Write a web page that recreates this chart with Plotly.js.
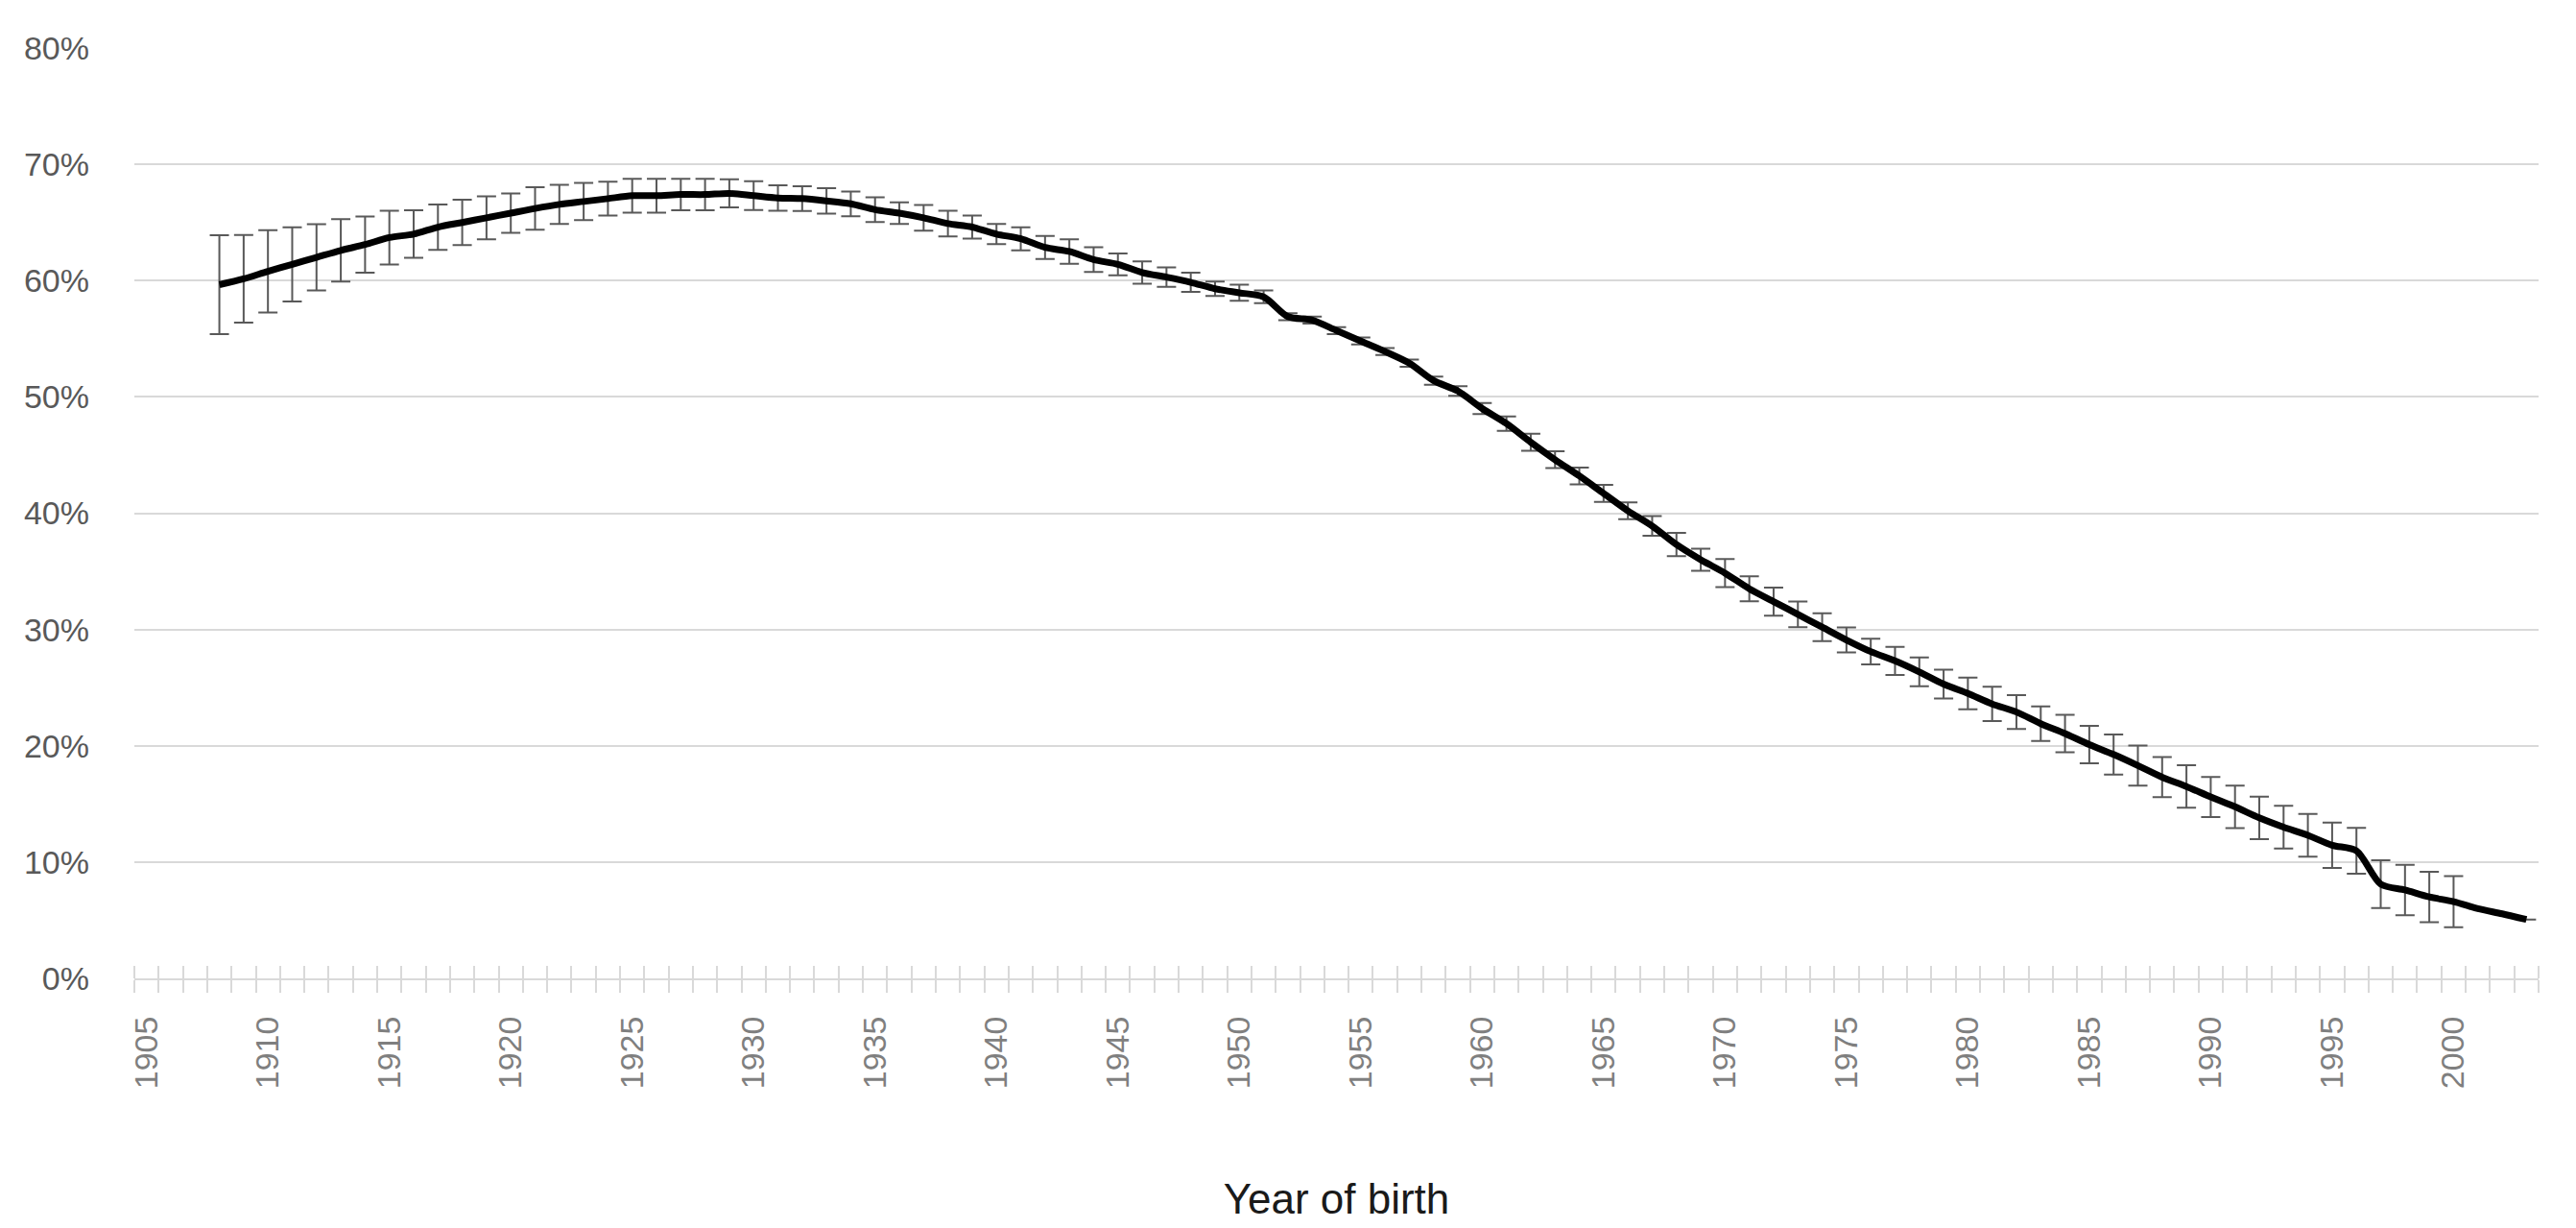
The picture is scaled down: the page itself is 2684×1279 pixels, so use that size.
<!DOCTYPE html>
<html>
<head>
<meta charset="utf-8">
<script src="https://cdn.plot.ly/plotly-3.0.1.min.js"></script>
<style>html,body{margin:0;padding:0;background:#fff;}#chart{width:2684px;height:1279px;}</style>
</head>
<body>
<div id="chart"></div>
<script>
var years = [];
for (var yr = 1908; yr <= 2003; yr++) years.push(yr);

var shareValues = [
  59.65, 60.15, 60.8, 61.4, 62.0, 62.6, 63.1, 63.7, 64.0, 64.6,
  65.0, 65.4, 65.8, 66.2, 66.55, 66.8, 67.05, 67.3, 67.3, 67.4,
  67.4, 67.5, 67.3, 67.1, 67.05, 66.85, 66.6, 66.1, 65.8, 65.4,
  64.9, 64.6, 64.0, 63.6, 62.85, 62.5, 61.8, 61.4, 60.7, 60.3,
  59.85, 59.3, 58.95, 58.6, 56.9, 56.6, 55.7, 54.8, 53.9, 52.9,
  51.4, 50.5, 49.0, 47.7, 46.1, 44.6, 43.2, 41.7, 40.2, 38.9,
  37.3, 36.0, 34.85, 33.5, 32.4, 31.3, 30.2, 29.1, 28.1, 27.3,
  26.35, 25.3, 24.5, 23.6, 22.9, 21.9, 21.05, 20.1, 19.25, 18.3,
  17.3, 16.5, 15.6, 14.75, 13.8, 13.0, 12.3, 11.45, 10.97, 8.1,
  7.6, 7.0, 6.6, 6.0, 5.55, 5.06
];

var errorValues = [
  4.25, 3.77, 3.54, 3.19, 2.85, 2.68, 2.42, 2.31, 2.04, 1.95,
  1.95, 1.84, 1.69, 1.83, 1.68, 1.6, 1.45, 1.45, 1.45, 1.35,
  1.35, 1.21, 1.24, 1.10, 1.07, 1.10, 1.06, 1.07, 0.92, 1.10,
  1.10, 0.99, 0.87, 0.99, 0.99, 1.06, 1.06, 0.94, 0.96, 0.83,
  0.83, 0.62, 0.69, 0.55, 0.3, 0.3, 0.3, 0.3, 0.3, 0.3,
  0.35, 0.41, 0.48, 0.62, 0.73, 0.73, 0.72, 0.73, 0.72, 0.85,
  1.0, 0.95, 1.21, 1.07, 1.21, 1.10, 1.20, 1.07, 1.10, 1.21,
  1.24, 1.24, 1.36, 1.47, 1.46, 1.49, 1.61, 1.61, 1.72, 1.72,
  1.72, 1.83, 1.72, 1.83, 1.83, 1.83, 1.84, 1.95, 1.97, 2.06,
  2.17, 2.17, 2.2, null, null, null
];

var yTickValues = [0, 10, 20, 30, 40, 50, 60, 70, 80];
var yTickLabels = ['0%', '10%', '20%', '30%', '40%', '50%', '60%', '70%', '80%'];
var xAxisTitle = 'Year of birth';

var fontFamily = 'Liberation Sans, Arial, sans-serif';

// invisible helper so the overlaid tick axis (inner half of the crossing ticks) is drawn
var tickHelper = {
  x: years,
  y: shareValues,
  xaxis: 'x2',
  yaxis: 'y',
  type: 'scatter',
  mode: 'lines',
  line: {color: 'rgba(0,0,0,0)', width: 0},
  hoverinfo: 'skip',
  showlegend: false
};

var trace = {
  x: years,
  y: shareValues,
  type: 'scatter',
  mode: 'lines',
  line: {color: '#000000', width: 7, shape: 'spline', smoothing: 0.8},
  error_y: {
    type: 'data',
    array: errorValues,
    visible: true,
    color: '#595959',
    thickness: 2,
    width: 10
  },
  hoverinfo: 'x+y',
  showlegend: false
};

var layout = {
  width: 2684,
  height: 1279,
  paper_bgcolor: '#ffffff',
  plot_bgcolor: '#ffffff',
  margin: {l: 140, r: 39, t: 50, b: 260},
  showlegend: false,
  font: {family: fontFamily, color: '#595959'},
  xaxis: {
    range: [1904.5, 2003.5],
    tickmode: 'linear',
    tick0: 1905,
    dtick: 5,
    ticks: '',
    tickangle: -90,
    ticklabelstandoff: 24,
    tickfont: {family: fontFamily, size: 34, color: '#7f7f7f'},
    showgrid: false,
    zeroline: false,
    showline: true,
    linecolor: '#d9d9d9',
    linewidth: 2,
    minor: {tick0: 1904.5, dtick: 1, ticks: 'outside', ticklen: 13, tickcolor: '#d9d9d9', tickwidth: 2, showgrid: false},
    title: {text: xAxisTitle, font: {family: fontFamily, size: 44, color: '#1a1a1a'}, standoff: 100},
    automargin: false,
    fixedrange: true
  },
  xaxis2: {
    overlaying: 'x',
    anchor: 'y',
    side: 'bottom',
    range: [1904.5, 2003.5],
    tickmode: 'linear',
    tick0: 1905,
    dtick: 5,
    ticks: '',
    showticklabels: false,
    showgrid: false,
    zeroline: false,
    showline: false,
    minor: {tick0: 1904.5, dtick: 1, ticks: 'inside', ticklen: 13, tickcolor: '#d9d9d9', tickwidth: 2, showgrid: false},
    automargin: false,
    fixedrange: true
  },
  yaxis: {
    range: [0, 80],
    tickmode: 'array',
    tickvals: yTickValues,
    ticktext: yTickLabels,
    ticks: '',
    ticklabelstandoff: 46,
    tickfont: {family: fontFamily, size: 34, color: '#595959'},
    showgrid: true,
    gridcolor: '#d9d9d9',
    gridwidth: 2,
    zeroline: false,
    showline: false,
    automargin: false,
    fixedrange: true
  }
};

Plotly.newPlot('chart', [tickHelper, trace], layout, {displayModeBar: false, staticPlot: true});
</script>
</body>
</html>
